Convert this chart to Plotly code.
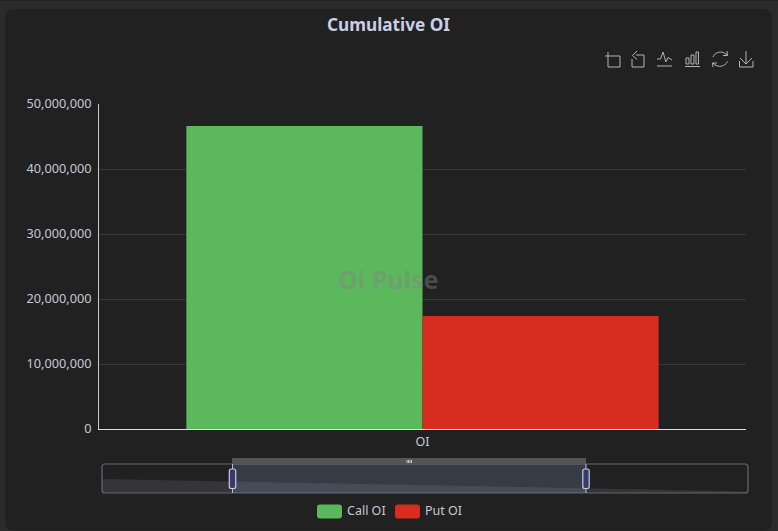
import plotly.graph_objects as go

WIDTH, HEIGHT = 778, 531

categories = ["OI"]
call_oi = [46600000]
put_oi = [17400000]
y_ticks = [0, 10000000, 20000000, 30000000, 40000000, 50000000]
preview_x = [0, 1]
preview_values = [46600000, 5000000]

FONT = "Noto Sans"
TEXT = "#c6c8d6"
ICON = "#b4b4b8"


def px(x):
    return x / WIDTH


def py(y):
    return 1 - y / HEIGHT


def path(*points_or_cmds):
    """Build an SVG path from pixel coordinates, mapped onto paper space."""
    out = []
    for item in points_or_cmds:
        cmd, coords = item[0], item[1:]
        pairs = [f"{px(coords[i]):.5f},{py(coords[i + 1]):.5f}" for i in range(0, len(coords), 2)]
        out.append(cmd + " ".join(pairs))
    return "".join(out)


def rounded(x0, y0, x1, y1, r):
    return path(
        ("M", x0 + r, y0), ("L", x1 - r, y0), ("Q", x1, y0, x1, y0 + r),
        ("L", x1, y1 - r), ("Q", x1, y1, x1 - r, y1), ("L", x0 + r, y1),
        ("Q", x0, y1, x0, y1 - r), ("L", x0, y0 + r), ("Q", x0, y0, x0 + r, y0),
    ) + "Z"


def shape(d, fill="rgba(0,0,0,0)", line=None, width=1, layer="above"):
    return dict(
        type="path", path=d, xref="paper", yref="paper", layer=layer,
        fillcolor=fill, line=dict(color=line or "rgba(0,0,0,0)", width=width if line else 0),
    )


def box(x0, y0, x1, y1, fill, layer="above"):
    return dict(
        type="rect", xref="paper", yref="paper", layer=layer, fillcolor=fill, line=dict(width=0),
        x0=px(x0), x1=px(x1), y0=py(y1), y1=py(y0),
    )


shapes = [
    # page strip and card
    box(0, 0, WIDTH, 1, "#232323", layer="below"),
    shape(rounded(5, 9, 772, 530.5, 9), fill="#212121", layer="below"),
    # zoom slider: frame, selected window, drag bar, handles
    shape(rounded(102, 464, 748, 493, 3), line="#66666e", width=1.2),
    box(232, 464, 586, 493, "rgba(135,170,215,0.2)"),
    box(232, 458, 586, 464, "#555555"),
]
for tick_x in (407, 408.5, 410, 411.5):
    shapes.append(shape(path(("M", tick_x, 460), ("L", tick_x, 463)), line="#e6e6e6", width=0.8))
for handle_x in (232.5, 586):
    shapes.append(shape(path(("M", handle_x, 464), ("L", handle_x, 493)), line="#b9bfdc", width=1))
    shapes.append(shape(rounded(handle_x - 3.2, 469, handle_x + 3.2, 488.5, 2), fill="#3a3a68", line="#c5cbe6", width=1.2))

# toolbox glyphs
icons = [
    path(("M", 605, 56), ("L", 620, 56), ("L", 620, 67), ("L", 608, 67), ("L", 608, 52)),
    path(("M", 636, 55), ("L", 644, 55), ("L", 644, 67), ("L", 632, 67), ("L", 632, 59)),
    path(("M", 637, 51), ("L", 632.5, 55.5), ("L", 637, 59.5)),
    path(("M", 657, 59), ("L", 660.5, 59), ("L", 663, 52), ("L", 666, 62), ("L", 668, 57.5), ("L", 672, 60)),
    path(("M", 657, 66), ("L", 672, 66)),
    path(("M", 686, 64), ("L", 686, 58), ("L", 689, 58), ("L", 689, 64), ("Z",)),
    path(("M", 691, 64), ("L", 691, 55), ("L", 694, 55), ("L", 694, 64), ("Z",)),
    path(("M", 696, 64), ("L", 696, 52), ("L", 698.5, 52), ("L", 698.5, 64), ("Z",)),
    path(("M", 685, 66.5), ("L", 700, 66.5)),
    path(("M", 713, 57), ("C", 714.5, 52.5, 722, 49.5, 727, 55), ("M", 727, 51), ("L", 727.5, 55.5), ("L", 723, 55.5)),
    path(("M", 727.5, 61.5), ("C", 725.5, 66, 718, 69, 713, 63), ("M", 713, 67), ("L", 712.5, 63), ("L", 717, 63)),
    path(("M", 746, 51), ("L", 746, 64)),
    path(("M", 740, 58), ("L", 746, 64), ("L", 752, 58)),
    path(("M", 739.5, 61), ("L", 739.5, 67), ("L", 753, 67), ("L", 753, 61)),
]
shapes += [shape(d, line=ICON, width=1) for d in icons]

# legend swatches
shapes.append(shape(rounded(317, 504.5, 342, 518.5, 3), fill="#5cb85c"))
shapes.append(shape(rounded(395, 504.5, 420, 518.5, 3), fill="#d62d20"))


def label(text, x, y, size, color=TEXT, anchor="center", bold=False):
    return dict(
        text=f"<b>{text}</b>" if bold else text, x=px(x), y=py(y), xref="paper", yref="paper",
        xanchor=anchor, yanchor="middle", showarrow=False,
        font=dict(family=FONT, size=size, color=color),
    )


annotations = [
    label("Cumulative OI", 388.5, 24.5, 17.2, "#c9cfe6", bold=True),
    label("Oi Pulse", 388, 278.5, 25, "rgba(130,130,130,0.46)", bold=True),
    label("Call OI", 344.5, 510.5, 12.5, anchor="left"),
    label("Put OI", 422.5, 510.5, 12.5, anchor="left"),
]

fig = go.Figure()
fig.add_bar(x=categories, y=call_oi, name="Call OI", marker=dict(color="#5cb85c", line=dict(width=0)))
fig.add_bar(x=categories, y=put_oi, name="Put OI", marker=dict(color="#d62d20", line=dict(width=0)))
fig.add_scatter(
    x=preview_x, y=preview_values, xaxis="x2", yaxis="y2", mode="lines",
    line=dict(width=0), fill="tozeroy", fillcolor="rgba(215,215,255,0.11)", hoverinfo="skip",
)

fig.update_layout(
    width=WIDTH, height=HEIGHT, margin=dict(l=0, r=0, t=0, b=0, autoexpand=False),
    paper_bgcolor="#2b2b2b", plot_bgcolor="rgba(0,0,0,0)",
    barmode="group", bargap=0.27, bargroupgap=0, showlegend=False,
    font=dict(family=FONT, size=12.5, color=TEXT),
    shapes=shapes, annotations=annotations,
    xaxis=dict(
        domain=[px(99), px(746)], anchor="y", type="category", automargin=False,
        showline=True, linecolor="#dcdce2", linewidth=1, showgrid=False,
        ticks="", ticklabelstandoff=1, tickfont=dict(size=12.5, color=TEXT),
    ),
    yaxis=dict(
        domain=[py(429), py(104)], anchor="x", range=[0, 50000000], automargin=False,
        tickvals=y_ticks, tickformat=",d",
        showline=True, linecolor="#c9c9d0", linewidth=1,
        gridcolor="#3a3a3a", gridwidth=1, zeroline=False,
        ticks="", ticklabelstandoff=4, tickfont=dict(size=12.7, color=TEXT),
    ),
    xaxis2=dict(domain=[px(102), px(748)], anchor="y2", range=[0, 1], visible=False, automargin=False),
    yaxis2=dict(domain=[py(493), py(464)], anchor="x2", range=[0, 96000000], visible=False, automargin=False),
)

fig.write_html("out.html", config=dict(displayModeBar=False))
